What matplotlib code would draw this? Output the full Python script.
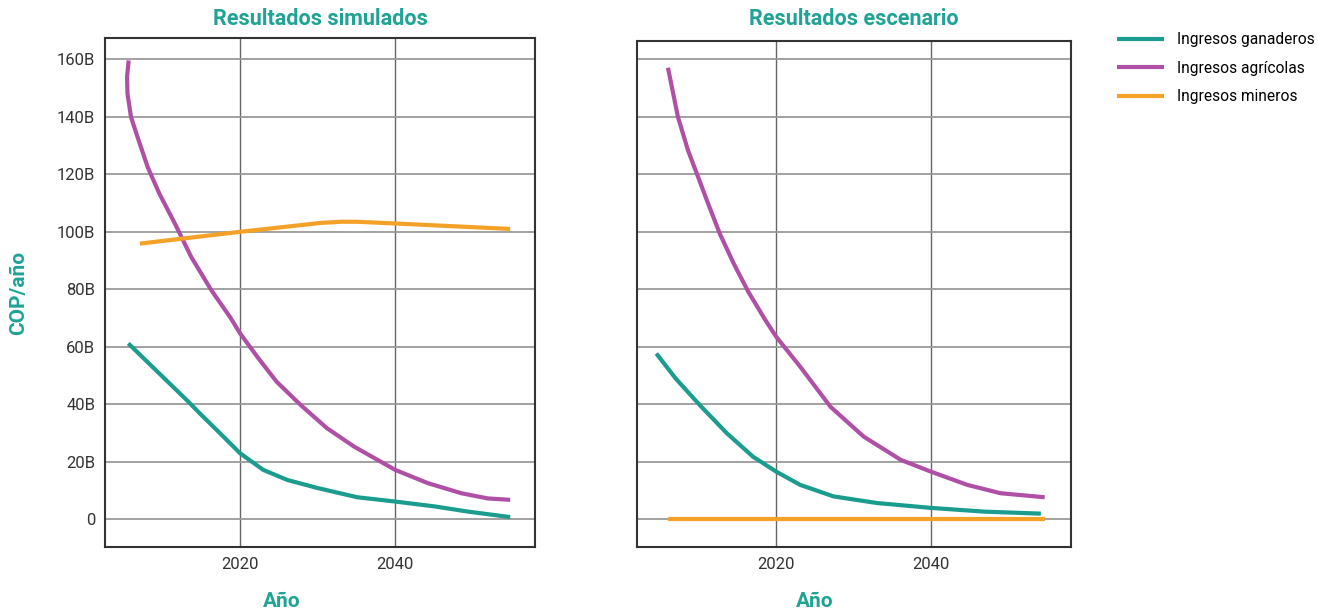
import matplotlib.pyplot as plt

plt.rcParams['font.family'] = ['Roboto', 'DejaVu Sans']

# Resultados simulados (valores en miles de millones COP/año)
sim_gan_x = [2005.6, 2013.2, 2014.8, 2017.4, 2020.0, 2023.0, 2026.1, 2030.0,
             2035.1, 2040.0, 2045.1, 2049.4, 2054.8]
sim_gan_y = [61.1, 41.2, 36.8, 29.9, 22.9, 17.1, 13.6, 10.8,
             7.6, 6.1, 4.4, 2.6, 0.7]

sim_agr_x = [2005.65, 2005.44, 2005.5, 2005.95, 2006.8, 2008.1, 2009.6, 2011.6,
             2013.7, 2016.3, 2018.7, 2020.0, 2022.2, 2024.7, 2027.8, 2031.2,
             2034.7, 2040.0, 2044.2, 2048.5, 2051.9, 2054.8]
sim_agr_y = [159.5, 153.7, 147.9, 139.8, 132.8, 122.4, 113.2, 102.8,
             91.2, 79.6, 70.3, 64.6, 56.5, 47.8, 39.7, 31.6,
             25.2, 17.1, 12.5, 9.0, 7.2, 6.7]

sim_min_x = [2007.1, 2020.0, 2030.4, 2033.0, 2035.0, 2040.0, 2054.8]
sim_min_y = [95.8, 99.9, 103.0, 103.4, 103.4, 102.8, 100.9]

# Resultados escenario
esc_gan_x = [2004.5, 2007.0, 2010.1, 2013.6, 2017.0, 2020.0, 2023.1, 2027.4,
             2033.0, 2040.0, 2046.9, 2054.2]
esc_gan_y = [57.6, 48.9, 39.7, 29.9, 21.7, 16.5, 11.9, 7.9,
             5.6, 3.9, 2.6, 1.9]

esc_agr_x = [2006.0, 2007.3, 2008.6, 2009.9, 2011.2, 2012.7, 2014.5, 2016.4,
             2018.6, 2020.0, 2023.1, 2027.0, 2031.3, 2036.1, 2040.0, 2044.7,
             2049.0, 2054.7]
esc_agr_y = [157.0, 139.8, 128.2, 119.0, 109.7, 99.3, 88.9, 79.0,
             69.2, 63.4, 53.0, 39.1, 28.7, 20.6, 16.5, 11.9,
             9.0, 7.6]

esc_min_x = [2006.0, 2054.7]
esc_min_y = [0.1, 0.1]

labels = ['Ingresos ganaderos', 'Ingresos agrícolas', 'Ingresos mineros']
colors = ['#1a9c8e', '#b04fa6', '#f4a127']
y_ticks = [0, 20, 40, 60, 80, 100, 120, 140, 160]
y_ticklabels = ['0', '20B', '40B', '60B', '80B', '100B', '120B', '140B', '160B']
x_ticks = [2020, 2040]
title_color = '#1fa394'

W, H = 1318, 613
fig = plt.figure(figsize=(W / 100, H / 100), dpi=100)
ax1 = fig.add_axes([105 / W, 1 - 547 / H, 430 / W, 509 / H])
ax2 = fig.add_axes([637 / W, 1 - 547 / H, 434 / W, 506 / H])

panels = [
    (ax1, [(sim_gan_x, sim_gan_y), (sim_agr_x, sim_agr_y), (sim_min_x, sim_min_y)],
     (2002.6, 2058.0), 167.3, 'Resultados simulados'),
    (ax2, [(esc_gan_x, esc_gan_y), (esc_agr_x, esc_agr_y), (esc_min_x, esc_min_y)],
     (2002.0, 2058.1), 166.3, 'Resultados escenario'),
]

for ax, series, xlim, ytop, title in panels:
    for (xs, ys), c, lab in zip(series, colors, labels):
        ax.plot(xs, ys, color=c, lw=3, label=lab, solid_capstyle='butt',
                solid_joinstyle='round')
    ax.set_xlim(*xlim)
    ax.set_ylim(-9.7, ytop)
    ax.set_xticks(x_ticks)
    ax.set_yticks(y_ticks)
    ax.yaxis.grid(True, color='#9a9a9a', lw=1.3)
    ax.xaxis.grid(True, color='#666666', lw=1.0)
    ax.set_axisbelow(True)
    for s in ax.spines.values():
        s.set_color('#333333')
        s.set_linewidth(1.5)
    ax.tick_params(length=0, labelsize=12, labelcolor='#333333', pad=7)
    ax.set_xlabel('Año', fontsize=15, fontweight='bold', color=title_color)
    ax.xaxis.set_label_coords(0.41, -0.107)
    ax.xaxis.label.set_va('center')
    cx = (ax.get_position().x0 + ax.get_position().x1) / 2
    fig.text(cx, 1 - 19 / H, title, ha='center', va='center',
             fontsize=15.5, fontweight='bold', color=title_color)

ax1.set_yticklabels(y_ticklabels)
ax2.set_yticklabels([])
ax1.set_ylabel('COP/año', fontsize=15, fontweight='bold', color=title_color)
ax1.yaxis.label.set_va('center')
ax1.yaxis.set_label_coords(-0.202, 0.5)

handles, labs = ax1.get_legend_handles_labels()
fig.legend(handles, labs, loc='upper left', bbox_to_anchor=(1117 / W, 1 - 32 / H),
           frameon=False, fontsize=11.2, handlelength=3.0, handletextpad=0.85,
           labelspacing=0.88, borderaxespad=0, borderpad=0)

fig.savefig('out.png', dpi=100)
